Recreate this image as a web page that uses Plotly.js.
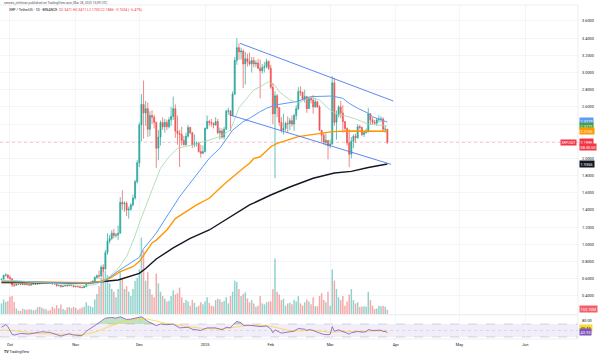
<!DOCTYPE html>
<html><head><meta charset="utf-8">
<script src="https://cdn.plot.ly/plotly-3.0.1.min.js"></script>
<style>html,body{margin:0;padding:0;background:#fff}#chart{width:600px;height:357px}</style>
</head><body><div id="chart"></div>
<script>
// ---------- DATA ----------
const startDate = '2024-09-27';
const firstOpen = 0.590;
const closes = [
 0.595,0.640,0.645,0.615,
 0.600,0.530,0.525,0.535,0.533,0.537,0.532,0.536,0.531,0.526,0.536,0.542,0.536,0.546,0.544,0.550,0.547,0.549,0.548,0.546,0.541,0.540,0.519,0.523,0.508,0.516,0.521,0.519,0.528,0.520,0.508,
 0.510,0.507,0.500,0.497,0.509,0.545,0.550,0.560,0.572,0.616,0.636,0.633,0.735,0.715,0.905,1.040,1.070,1.130,1.105,1.110,1.130,1.490,1.470,1.480,1.400,1.410,1.460,1.540,1.730,1.950,
 2.390,2.630,2.530,2.580,2.340,2.500,2.480,2.420,2.120,2.250,2.420,2.370,2.420,2.370,2.450,2.490,2.580,2.320,2.290,2.280,2.210,2.160,2.260,2.360,2.300,2.160,2.170,2.180,2.080,2.060,2.080,
 2.350,2.430,2.420,2.410,2.390,2.430,2.300,2.320,2.250,2.340,2.550,2.555,2.500,2.750,3.140,3.290,3.240,3.250,3.100,3.160,3.130,3.100,3.140,3.100,3.110,3.050,3.020,3.060,3.070,3.130,3.050,
 2.830,2.520,2.730,2.590,2.420,2.330,2.350,2.410,2.405,2.440,2.400,2.500,2.580,2.780,2.770,2.690,2.720,2.580,2.700,2.680,2.600,2.660,2.600,2.330,2.270,2.190,2.210,2.150,
 2.170,2.880,2.420,2.510,2.600,2.530,2.430,2.350,2.180,2.050,2.200,2.260,2.240,2.370,2.360,2.280,2.300,2.320,2.520,2.450,2.420,2.410,2.450,2.455,2.460,2.340,2.3411,2.1886
];
const highs = [
 0.600,0.648,0.665,0.652,
 0.642,0.605,0.535,0.538,0.537,0.540,0.545,0.540,0.540,0.535,0.538,0.545,0.544,0.552,0.555,0.556,0.552,0.553,0.551,0.550,0.551,0.545,0.541,0.528,0.527,0.519,0.524,0.525,0.533,0.530,0.523,
 0.520,0.512,0.509,0.508,0.513,0.555,0.557,0.568,0.580,0.628,0.650,0.695,0.760,0.770,0.935,1.130,1.110,1.165,1.180,1.135,1.220,1.550,1.630,1.500,1.500,1.440,1.480,1.580,1.750,1.980,
 2.420,2.750,2.907,2.670,2.650,2.550,2.560,2.510,2.430,2.330,2.440,2.480,2.460,2.450,2.480,2.600,2.720,2.630,2.500,2.330,2.370,2.260,2.300,2.390,2.370,2.310,2.280,2.200,2.190,2.160,2.150,
 2.360,2.500,2.450,2.460,2.420,2.480,2.460,2.360,2.350,2.370,2.570,2.590,2.560,2.780,3.180,3.400,3.340,3.290,3.270,3.240,3.220,3.230,3.180,3.180,3.140,3.160,3.150,3.100,3.120,3.160,3.140,
 3.090,2.880,2.780,2.750,2.600,2.480,2.520,2.430,2.490,2.470,2.500,2.520,2.620,2.830,2.840,2.780,2.800,2.730,2.720,2.720,2.740,2.700,2.670,2.620,2.330,2.300,2.290,2.210,
 2.220,2.960,2.940,2.560,2.620,2.670,2.620,2.430,2.360,2.340,2.250,2.280,2.290,2.400,2.390,2.370,2.320,2.350,2.590,2.530,2.480,2.450,2.470,2.500,2.490,2.480,2.380,2.3411
];
const lows = [
 0.585,0.592,0.628,0.600,
 0.590,0.505,0.505,0.518,0.527,0.530,0.528,0.526,0.528,0.521,0.524,0.535,0.531,0.534,0.535,0.541,0.540,0.543,0.544,0.542,0.530,0.535,0.510,0.514,0.500,0.505,0.512,0.508,0.515,0.515,0.502,
 0.500,0.502,0.491,0.490,0.494,0.507,0.535,0.545,0.556,0.567,0.596,0.600,0.618,0.680,0.700,0.880,1.010,1.050,1.070,1.080,1.050,1.130,1.400,1.380,1.330,1.300,1.390,1.440,1.520,1.710,
 1.900,2.200,2.230,2.380,2.250,2.260,2.400,2.350,1.890,1.980,2.150,2.330,2.300,2.330,2.350,2.380,2.450,2.240,2.160,1.900,2.150,2.150,2.150,2.240,2.280,2.120,2.130,2.140,2.070,2.010,2.050,
 2.070,2.340,2.380,2.370,2.350,2.380,2.280,2.220,2.230,2.220,2.330,2.510,2.320,2.490,2.740,3.090,3.150,3.150,2.820,2.860,3.070,3.080,3.000,3.060,3.060,3.040,2.700,2.990,3.000,3.050,3.030,
 2.810,2.400,1.770,2.480,2.380,2.300,2.280,2.320,2.300,2.330,2.370,2.320,2.450,2.560,2.730,2.680,2.650,2.530,2.580,2.640,2.520,2.590,2.590,2.320,2.190,2.160,2.150,1.990,
 2.120,2.160,2.380,2.220,2.480,2.470,2.300,2.310,2.150,1.900,2.000,2.120,2.180,2.230,2.340,2.260,2.250,2.290,2.300,2.390,2.390,2.400,2.380,2.420,2.420,2.320,2.300,2.1700
];
// volume, millions of XRP
const volumes = [
 380,520,430,470,
 620,650,430,200,120,110,190,160,150,170,160,130,150,240,260,220,190,170,120,140,260,200,320,210,340,180,130,230,250,210,260,
 220,150,200,230,260,420,300,280,240,520,720,1000,1300,1700,1550,1400,1100,900,800,600,900,1500,1300,900,1000,800,650,900,1200,1300,
 1600,2750,2270,1200,1500,900,700,600,1450,1100,800,650,550,450,480,650,850,700,750,950,600,400,500,450,300,500,400,250,300,420,350,
 450,600,400,300,280,500,550,520,430,480,600,380,650,800,1200,1150,900,650,720,780,560,420,500,380,260,300,650,380,350,420,450,
 450,900,2000,800,700,500,550,300,380,400,350,500,450,650,380,300,420,520,450,350,600,280,280,650,750,500,420,800,
 300,1600,1200,900,600,500,650,300,450,700,900,500,380,420,250,270,280,260,800,500,300,180,200,300,280,300,260,150.15
];
// moving averages
const ma20Dates = ['2024-09-27','2024-10-05','2024-10-12','2024-10-20','2024-10-28','2024-11-05','2024-11-10','2024-11-14','2024-11-17','2024-11-21','2024-11-25','2024-11-29','2024-12-01','2024-12-04','2024-12-07','2024-12-11','2024-12-15','2024-12-19','2024-12-26','2025-01-03','2025-01-08','2025-01-13','2025-01-17','2025-01-22','2025-01-24','2025-01-27','2025-01-31','2025-02-03','2025-02-05','2025-02-10','2025-02-14','2025-02-20','2025-02-24','2025-03-01','2025-03-05','2025-03-09','2025-03-13','2025-03-19','2025-03-28'];
const ma20 = [0.585,0.578,0.560,0.545,0.535,0.522,0.530,0.575,0.625,0.720,0.857,1.100,1.246,1.450,1.633,1.886,2.020,2.119,2.157,2.215,2.254,2.332,2.590,2.739,2.797,2.836,2.894,2.850,2.777,2.680,2.650,2.710,2.680,2.564,2.506,2.490,2.460,2.400,2.377];
const ma50Dates = ['2024-09-27','2024-10-10','2024-10-25','2024-11-07','2024-11-14','2024-11-21','2024-12-01','2024-12-03','2024-12-07','2024-12-09','2024-12-20','2024-12-30','2025-01-03','2025-01-08','2025-01-14','2025-01-19','2025-01-22','2025-01-27','2025-01-30','2025-02-03','2025-02-13','2025-02-20','2025-03-02','2025-03-07','2025-03-10','2025-03-14','2025-03-19','2025-03-21','2025-03-28'];
const ma50 = [0.575,0.567,0.556,0.545,0.565,0.690,0.850,0.950,1.070,1.133,1.555,1.866,2.002,2.119,2.330,2.428,2.468,2.545,2.584,2.622,2.661,2.720,2.727,2.700,2.642,2.584,2.526,2.486,2.4229];
const ma100Dates = ['2024-09-27','2024-10-15','2024-11-07','2024-11-12','2024-11-17','2024-11-22','2024-11-28','2024-12-01','2024-12-03','2024-12-07','2024-12-09','2024-12-14','2024-12-18','2024-12-28','2025-01-03','2025-01-10','2025-01-19','2025-01-22','2025-01-24','2025-01-27','2025-02-01','2025-02-04','2025-02-14','2025-02-24','2025-03-02','2025-03-11','2025-03-28'];
const ma100 = [0.568,0.562,0.556,0.565,0.606,0.683,0.741,0.800,0.877,1.017,1.050,1.168,1.300,1.459,1.537,1.700,1.886,1.944,2.000,2.020,2.137,2.177,2.254,2.293,2.312,2.320,2.3165];
const ma200Dates = ['2024-09-27','2024-10-20','2024-11-07','2024-11-21','2024-12-01','2024-12-04','2024-12-09','2024-12-17','2024-12-25','2025-01-03','2025-01-13','2025-01-22','2025-02-01','2025-02-10','2025-02-21','2025-03-03','2025-03-11','2025-03-19','2025-03-28'];
const ma200 = [0.556,0.553,0.551,0.586,0.664,0.720,0.830,0.960,1.071,1.168,1.319,1.459,1.575,1.668,1.770,1.831,1.850,1.895,1.9365];
// descending channel
const chanUpperDates = ['2025-01-17 12:00','2025-03-30 19:00'];
const chanUpper = [3.340,2.669];
const chanLowerDates = ['2025-01-12 19:00','2025-03-29 17:00'];
const chanLower = [2.506,1.932];
// RSI(14) and its moving average
const rsiDates = ['2024-09-27','2024-09-29','2024-09-30','2024-10-02','2024-10-03','2024-10-06','2024-10-10','2024-10-14','2024-10-16','2024-10-20','2024-10-23','2024-10-25','2024-10-29','2024-10-31','2024-11-04','2024-11-06','2024-11-10','2024-11-11','2024-11-13','2024-11-15','2024-11-18','2024-11-20','2024-11-22','2024-11-25','2024-11-27','2024-11-30','2024-12-02','2024-12-03','2024-12-05','2024-12-09','2024-12-11','2024-12-14','2024-12-17','2024-12-20','2024-12-24','2024-12-26','2024-12-30','2025-01-02','2025-01-06','2025-01-09','2025-01-11','2025-01-13','2025-01-14','2025-01-16','2025-01-18','2025-01-19','2025-01-22','2025-01-26','2025-01-27','2025-01-30','2025-02-01','2025-02-02','2025-02-03','2025-02-06','2025-02-08','2025-02-10','2025-02-12','2025-02-14','2025-02-17','2025-02-18','2025-02-19','2025-02-21','2025-02-24','2025-02-26','2025-02-28','2025-03-01','2025-03-02','2025-03-03','2025-03-05','2025-03-07','2025-03-09','2025-03-10','2025-03-11','2025-03-14','2025-03-16','2025-03-18','2025-03-19','2025-03-21','2025-03-25','2025-03-26','2025-03-27','2025-03-28'];
const rsi = [60,68,62,38,36,41,39,44,46,44,37,33,40,36,34,48,65,70,78,88,90,88,92,84,85,90,92,88,78,65,70,68,70,58,60,54,50,58,58,52,60,58,66,78,74,66,66,63,62,64,55,43,52,42,45,46,48,56,54,50,53,50,42,38,37,38,62,48,52,46,41,39,43,47,45,46,53,50,51,47,47,43.93];
const rsiMaDates = ['2024-09-27','2024-10-05','2024-10-15','2024-10-25','2024-11-05','2024-11-10','2024-11-15','2024-11-20','2024-11-25','2024-12-01','2024-12-05','2024-12-10','2024-12-15','2024-12-20','2024-12-25','2024-12-31','2025-01-05','2025-01-10','2025-01-15','2025-01-20','2025-01-25','2025-01-31','2025-02-05','2025-02-10','2025-02-15','2025-02-20','2025-02-25','2025-03-01','2025-03-05','2025-03-10','2025-03-15','2025-03-20','2025-03-25','2025-03-28'];
const rsiMa = [52,48,40,38.5,38,45,58,70,80,86,85,78,70,66,62,56,55,56,60,65,66,64,57,50,49,51,48,44,46,47,46,48,49.5,49.44];
// axis ticks
const monthTickDates = ['2024-10-01','2024-11-01','2024-12-01','2025-01-01','2025-02-01','2025-03-01','2025-04-01','2025-05-01','2025-06-01'];
const monthTickLabels = ['Oct','Nov','Dec','2025','Feb','Mar','Apr','May','Jun'];
const priceTicks = [0.4,0.6,0.8,1.0,1.2,1.4,1.6,1.8,2.0,2.2,2.4,2.6,2.8,3.0,3.2,3.4,3.6];
const priceTickText = ['0.4000','0.6000','0.8000','1.0000','1.2000','1.4000','1.6000','1.8000','2.0000','','','2.6000','2.8000','3.0000','3.2000','3.4000','3.6000'];
// last values shown on the scale
const lastPrice = 2.1886;
const lastVolume = 150.15;
const lastRsi = 43.93, lastRsiMa = 49.44;
const lastMa20 = 2.3771, lastMa50 = 2.4229, lastMa100 = 2.3165, lastMa200 = 1.9365;

// ---------- BUILD ----------
const N = closes.length;
const dates = [];
const d0 = Date.parse(startDate + 'T00:00:00Z');
for (let i = 0; i < N; i++) dates.push(new Date(d0 + i * 86400000).toISOString().slice(0, 10));
const opens = [firstOpen].concat(closes.slice(0, -1));
const UP = '#26a69a', DN = '#ef5350';
const volColors = closes.map((c, i) => c >= opens[i] ? 'rgba(38,166,154,0.5)' : 'rgba(239,83,80,0.5)');
const rsiOver = rsi.map(v => Math.max(v, 70));
const seventy = rsi.map(() => 70);

const FONT = 'Roboto, Arial, sans-serif';
const FS = 3.9;

const traces = [
  {type:'bar', x:dates, y:volumes, xaxis:'x', yaxis:'y', marker:{color:volColors, line:{width:0}}, hoverinfo:'skip'},
  {type:'candlestick', x:dates, open:opens, high:highs, low:lows, close:closes, xaxis:'x', yaxis:'y3',
   increasing:{line:{color:UP, width:0.7}, fillcolor:UP}, decreasing:{line:{color:DN, width:0.7}, fillcolor:DN}, hoverinfo:'skip'},
  {type:'scatter', mode:'lines', x:ma200Dates, y:ma200, xaxis:'x', yaxis:'y3', line:{color:'#131722', width:1.4}, hoverinfo:'skip'},
  {type:'scatter', mode:'lines', x:ma100Dates, y:ma100, xaxis:'x', yaxis:'y3', line:{color:'#ff9800', width:1.4}, hoverinfo:'skip'},
  {type:'scatter', mode:'lines', x:ma50Dates, y:ma50, xaxis:'x', yaxis:'y3', line:{color:'#5b9cf6', width:1}, hoverinfo:'skip'},
  {type:'scatter', mode:'lines', x:ma20Dates, y:ma20, xaxis:'x', yaxis:'y3', line:{color:'#a5d6a7', width:0.8}, hoverinfo:'skip'},
  {type:'scatter', mode:'lines', x:chanUpperDates, y:chanUpper, xaxis:'x', yaxis:'y3', line:{color:'#4a78f0', width:0.9}, hoverinfo:'skip'},
  {type:'scatter', mode:'lines', x:chanLowerDates, y:chanLower, xaxis:'x', yaxis:'y3', line:{color:'#4a78f0', width:0.9}, hoverinfo:'skip'},
  // RSI pane
  {type:'scatter', mode:'lines', x:rsiDates, y:seventy, xaxis:'x', yaxis:'y2', line:{width:0, color:'rgba(0,0,0,0)'}, hoverinfo:'skip'},
  {type:'scatter', mode:'lines', x:rsiDates, y:rsiOver, xaxis:'x', yaxis:'y2', fill:'tonexty', fillcolor:'rgba(76,175,80,0.35)', line:{width:0, color:'rgba(0,0,0,0)'}, hoverinfo:'skip'},
  {type:'scatter', mode:'lines', x:rsiMaDates, y:rsiMa, xaxis:'x', yaxis:'y2', line:{color:'#fdd835', width:0.8}, hoverinfo:'skip'},
  {type:'scatter', mode:'lines', x:rsiDates, y:rsi, xaxis:'x', yaxis:'y2', line:{color:'#7e57c2', width:0.8}, hoverinfo:'skip'}
];

function lab(text, yref, y, bg, fg, yshift) {
  return {text:text, xref:'paper', x:1, xanchor:'left', xshift:1, yref:yref, y:y, yanchor:'middle', yshift:yshift||0,
          showarrow:false, bgcolor:bg, borderpad:0.6, font:{family:FONT, size:FS, color:fg}};
}
const annotations = [
  lab(lastMa50.toFixed(4), 'y3', lastMa50, '#5b9cf6', '#fff', 1),
  lab(lastMa20.toFixed(4), 'y3', lastMa20, '#43a047', '#fff', 0),
  lab(lastMa100.toFixed(4), 'y3', lastMa100, '#ff9800', '#fff', 0),
  lab(lastPrice.toFixed(4), 'y3', lastPrice, '#f23645', '#fff', 0),
  lab('08:50:50', 'y3', lastPrice, '#f23645', '#fff', -4.6),
  lab(lastMa200.toFixed(4), 'y3', lastMa200, '#131722', '#fff', 0),
  lab(lastVolume.toFixed(2) + 'M', 'y', lastVolume, 'rgba(242,54,69,0.8)', '#fff', 1),
  lab(lastRsiMa.toFixed(2), 'y2', lastRsiMa, '#fdd835', '#131722', 3),
  lab(lastRsi.toFixed(2), 'y2', lastRsi, '#7e57c2', '#fff', 0),
  {text:'XRPUSDT', xref:'paper', x:1, xanchor:'right', xshift:-1, yref:'y3', y:lastPrice, yanchor:'middle', showarrow:false,
   bgcolor:'#f23645', borderpad:0.6, font:{family:FONT, size:3.2, color:'#fff'}},
  {text:'senses_chithiran published on TradingView.com, Mar 28, 2025 15:09 UTC', xref:'paper', yref:'paper', x:0.003, y:1.007,
   xanchor:'left', yanchor:'middle', showarrow:false, font:{family:FONT, size:3.2, color:'#50535e'}},
  {text:'XRP / TetherUS · 1D · BINANCE  <span style="color:#f23645">O2.3411 H2.3411 L2.1700 C2.1886 −0.1534 (−6.47%)</span>',
   xref:'paper', yref:'paper', x:0.012, y:0.985, xanchor:'left', yanchor:'middle', showarrow:false, font:{family:FONT, size:3.5, color:'#131722'}},
  {text:'<b>TV</b> TradingView', xref:'paper', yref:'paper', x:0.004, y:-0.039, xanchor:'left', yanchor:'middle', showarrow:false,
   font:{family:FONT, size:3.6, color:'#131722'}}
];

const shapes = [
  {type:'rect', xref:'paper', x0:0, x1:1, yref:'y2', y0:30, y1:70, fillcolor:'rgba(126,87,194,0.1)', line:{width:0}, layer:'below'},
  {type:'line', xref:'paper', x0:0, x1:1, yref:'y2', y0:70, y1:70, line:{color:'rgba(120,123,134,0.6)', width:0.5, dash:'dash'}, layer:'below'},
  {type:'line', xref:'paper', x0:0, x1:1, yref:'y2', y0:50, y1:50, line:{color:'rgba(120,123,134,0.4)', width:0.5, dash:'dot'}, layer:'below'},
  {type:'line', xref:'paper', x0:0, x1:1, yref:'y2', y0:30, y1:30, line:{color:'rgba(120,123,134,0.6)', width:0.5, dash:'dash'}, layer:'below'},
  {type:'line', xref:'paper', x0:0, x1:1, yref:'y3', y0:lastPrice, y1:lastPrice, line:{color:'rgba(242,54,69,0.55)', width:0.6, dash:'dot'}, layer:'below'},
  {type:'line', xref:'paper', x0:0, x1:1, yref:'paper', y0:0.0727, y1:0.0727, line:{color:'#e0e3eb', width:0.8}},
  {type:'line', xref:'paper', x0:0, x1:1, yref:'paper', y0:1, y1:1, line:{color:'#e0e3eb', width:0.6}},
  {type:'line', xref:'paper', x0:1, x1:1, yref:'paper', y0:0, y1:1, line:{color:'#e0e3eb', width:0.6}},
  {type:'line', xref:'paper', x0:0, x1:1, yref:'paper', y0:0, y1:0, line:{color:'#e0e3eb', width:0.6}}
];

const layout = {
  width:600, height:357, margin:{l:0, r:22, t:5, b:18},
  paper_bgcolor:'#ffffff', plot_bgcolor:'#ffffff', showlegend:false,
  font:{family:FONT, size:FS, color:'#131722'},
  bargap:0.3, boxgap:0.3, hovermode:false,
  xaxis:{type:'date', range:['2024-09-26 07:00','2025-06-25 22:00'], anchor:'y2', tickvals:monthTickDates, ticktext:monthTickLabels,
         tickfont:{size:FS, color:'#131722'}, ticks:'', ticklabelstandoff:2, showgrid:true, gridcolor:'#f0f3fa', gridwidth:0.8,
         zeroline:false, showline:false, rangeslider:{visible:false}, fixedrange:true},
  yaxis:{domain:[0.0749,1], range:[0,11124], visible:false, showgrid:false, zeroline:false, fixedrange:true},
  yaxis3:{overlaying:'y', side:'right', range:[0.1906,3.786], tickvals:priceTicks, ticktext:priceTickText,
          tickfont:{size:FS, color:'#131722'}, ticks:'', ticklabelstandoff:3, showgrid:true, gridcolor:'#f0f3fa', gridwidth:0.8,
          zeroline:false, showline:false, fixedrange:true},
  yaxis2:{domain:[0,0.0704], anchor:'x', side:'right', range:[23.85,96.15], tickvals:[80], ticktext:['80.00'],
          tickfont:{size:FS, color:'#131722'}, ticks:'', ticklabelstandoff:3, showgrid:false, zeroline:false, showline:false, fixedrange:true},
  annotations:annotations, shapes:shapes
};

Plotly.newPlot('chart', traces, layout, {staticPlot:true, displayModeBar:false});
</script>
</body></html>
